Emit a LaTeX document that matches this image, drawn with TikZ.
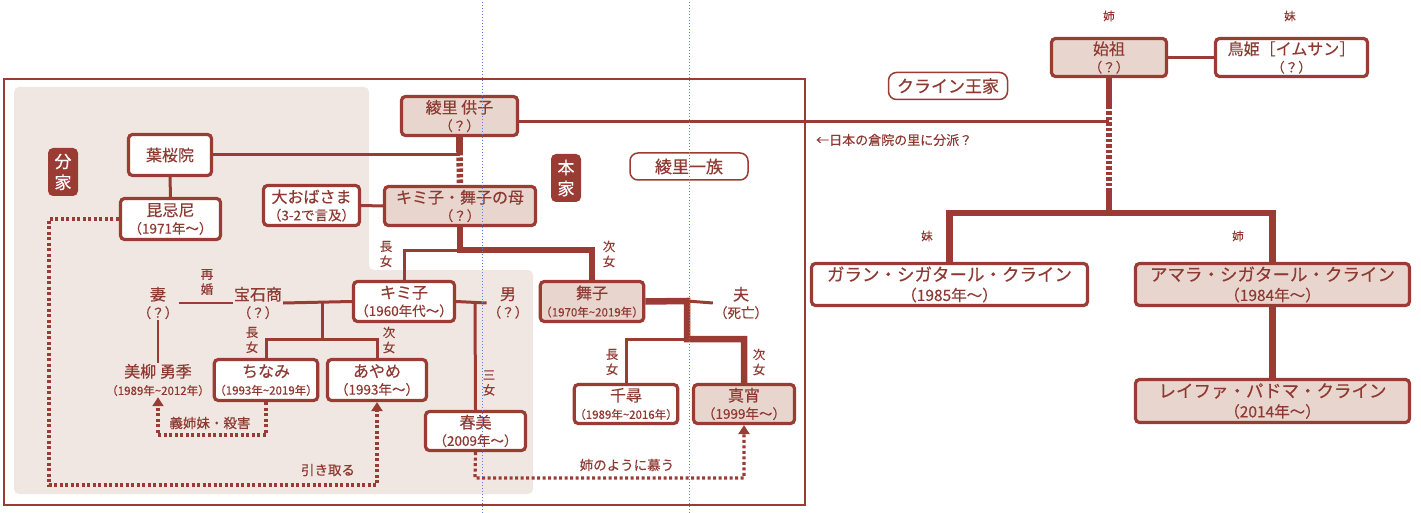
\documentclass[tikz,border=0pt]{standalone}
\usepackage{fontspec}
\setmainfont[FakeBold=0.35]{Noto Sans CJK JP}
\usetikzlibrary{arrows.meta}
\definecolor{dr}{HTML}{9A3B34}
\definecolor{hl}{HTML}{E8D6CE}
\definecolor{pn}{HTML}{F1E7E2}
\definecolor{tc}{HTML}{8E3A32}
\definecolor{gd}{HTML}{5B82D6}
\newcommand\fsN{\fontsize{16}{17.5}\selectfont}
\newcommand\fsD{\fontsize{13.5}{17.5}\selectfont}
\newcommand\fsDs{\fontsize{11.5}{17.5}\selectfont}
\newcommand\fsL{\fontsize{12.5}{15}\selectfont}
\newcommand\fsR{\fontsize{17.5}{20}\selectfont}
\newcommand\fsRd{\fontsize{15.5}{20}\selectfont}
\newcommand\fsT{\fontsize{17}{21}\selectfont}
\newcommand\fsC{\fontsize{13.5}{16}\selectfont}
\begin{document}
\begin{tikzpicture}[x=1pt,y=-1pt,
  box/.style={draw=dr, line width=3.2pt, rounded corners=4pt, fill=white, text=tc, align=center, inner sep=0pt, font=\fsN},
  hbox/.style={box, fill=hl},
  sz/.style 2 args={minimum width=#1pt, minimum height=#2pt},
  plain/.style={text=tc, align=center, inner sep=1pt, font=\fsN},
  lab/.style={text=tc, align=center, inner sep=0pt, font=\fsL},
  capt/.style={text=tc, inner sep=0pt, font=\fsC},
  tag/.style={fill=dr, rounded corners=5pt, text=white, align=center, inner sep=0pt, minimum width=30pt, minimum height=48pt, font=\fsT},
  clan/.style={draw=dr, line width=1.5pt, rounded corners=8pt, fill=white, text=tc, inner sep=0pt, minimum height=27pt, font=\fsT},
  thickln/.style={draw=dr, line width=6.5pt},
  midln/.style={draw=dr, line width=3pt},
  thinln/.style={draw=dr, line width=1.5pt},
  stripe/.style={draw=dr, line width=6.5pt, dash pattern=on 3.5pt off 2pt},
  dotln/.style={draw=dr, line width=3.2pt, dash pattern=on 3pt off 2.5pt},
  dotarr/.style={dotln, -{Triangle[length=9pt,width=11pt]}},
]
\useasboundingbox (0,0) rectangle (1421,513);
% panel and frame
\fill[pn, rounded corners=5pt] (14,87) -- (369,87) -- (369,270) -- (533,270) -- (533,494) -- (14,494) -- cycle;
\draw[dr, line width=1.5pt] (4,79) rectangle (805,505);

% ---- Ayasato nodes
\node[hbox, sz={116}{39}] (ayasato) at (459.5,116) {綾里 供子\\{\fsD （？）}};
\node[box, sz={83}{41}] (hazakura) at (170,155) {葉桜院};
\node[box, sz={100}{41}] (konki) at (170.5,219) {昆忌尼\\{\fsD （1971年～）}};
\node[box, sz={96}{40}] (oba) at (311.5,205.5) {大おばさま\\{\fsD （3-2で言及）}};
\node[hbox, sz={151}{39}] (haha) at (460,206) {キミ子・舞子の母\\{\fsD （？）}};
\node[box, sz={101}{40}] (kimiko) at (404,301.5) {キミ子\\{\fsD （1960年代～）}};
\node[box, sz={99}{41}] (chinami) at (266,380) {ちなみ\\{\fsDs （1993年\textasciitilde 2019年）}};
\node[box, sz={99}{41}] (ayame) at (377,380) {あやめ\\{\fsD （1993年～）}};
\node[box, sz={100}{39}] (harumi) at (475.5,431) {春美\\{\fsD （2009年～）}};
\node[hbox, sz={101}{40}] (maiko) at (592,301.5) {舞子\\{\fsDs （1970年\textasciitilde 2019年）}};
\node[box, sz={101}{39}] (chihiro) at (626,404) {千尋\\{\fsDs （1989年\textasciitilde 2016年）}};
\node[hbox, sz={101}{39}] (mayoi) at (744,404) {真宵\\{\fsD （1999年～）}};

\node[plain] (tsuma) at (158,303) {妻\\{\fsD （？）}};
\node[plain] (houseki) at (258,303) {宝石商\\{\fsD （？）}};
\node[plain] (otoko) at (508,303) {男\\{\fsD （？）}};
\node[plain] (otto) at (741,303) {夫\\{\fsD （死亡）}};
\node[plain] (miyanagi) at (158,380) {美柳 勇季\\{\fsDs （1989年\textasciitilde 2012年）}};

\node[tag] (bunke) at (63,172) {分\\家};
\node[tag] (honke) at (566,178) {本\\家};
\node[clan, minimum width=118pt] (ichizoku) at (689,166.5) {綾里一族};

% ---- Klein nodes
\node[hbox, sz={115}{38}] (shiso) at (1109,57.5) {始祖\\{\fsD （？）}};
\node[box, sz={152}{38}] (torihime) at (1291.5,57.5) {鳥姫［イムサン］\\{\fsD （？）}};
\node[clan, minimum width=119pt] (klein) at (948,86) {クライン王家};
\node[box, sz={276}{42}, font=\fsR] (garan) at (949.5,284.5) {ガラン・シガタール・クライン\\{\fsRd （1985年～）}};
\node[hbox, sz={274}{42}, font=\fsR] (amara) at (1272.5,284.5) {アマラ・シガタール・クライン\\{\fsRd （1984年～）}};
\node[hbox, sz={274}{43}, font=\fsR] (reifa) at (1272.5,401) {レイファ・パドマ・クライン\\{\fsRd （2014年～）}};

% ---- labels
\node[lab, font=\fontsize{11.5}{14}\selectfont] (lA) at (1109,16) {姉};
\node[lab, font=\fontsize{11.5}{14}\selectfont] (lB) at (1290,16) {妹};
\node[lab, font=\fontsize{11.5}{14}\selectfont] (lC) at (927,236) {妹};
\node[lab, font=\fontsize{11.5}{14}\selectfont] (lD) at (1238,236) {姉};
\node[lab] (l1) at (386,254) {長\\女};
\node[lab] (l2) at (609,254) {次\\女};
\node[lab] (l3) at (207,282) {再\\婚};
\node[lab] (l4) at (252,340) {長\\女};
\node[lab] (l5) at (389,340) {次\\女};
\node[lab] (l6) at (489,383) {三\\女};
\node[lab] (l7) at (612,362) {長\\女};
\node[lab] (l8) at (759,362) {次\\女};
\node[capt, anchor=west, font=\fontsize{13}{15}\selectfont] (bunpa) at (816,140) {←日本の倉院の里に分派？};
\node[capt] (c1) at (210,423) {義姉妹・殺害};
\node[capt] (c2) at (328,470) {引き取る};
\node[capt] (c3) at (627,465) {姉のように慕う};

% ---- coordinates
\coordinate (jS) at (459.5,152);
\coordinate (jM) at (460,250);
\coordinate (jK) at (322,302);
\coordinate (jK2) at (322,339);
\coordinate (jH) at (475,302);
\coordinate (jP) at (687,301);
\coordinate (jP2) at (687,339);
\coordinate (jR) at (1109,122);
\coordinate (jR1) at (1109,106);
\coordinate (jR2) at (1109,188);
\coordinate (jT) at (1109,213);
\coordinate (dA) at (49,485);
\coordinate (dB) at (158,435);
\coordinate (dC) at (475,478);

% ---- connectors (Ayasato)
\draw[thickln] (ayasato.south) -- (jS);
\draw[stripe] (jS) -- (haha.north);
\draw[midln] (hazakura.east) -- (jS |- hazakura.east);
\draw[midln] (hazakura.south) -- (konki.north);
\draw[midln] (oba.east) -- (haha.west);
\draw[midln] (jM) -| (kimiko.north);
\draw[thickln] (haha.south) -- (jM) -| (maiko.north);
\draw[thinln] (tsuma.east) -- (houseki.west);
\draw[thinln] (tsuma.south) -- (miyanagi.north);
\draw[midln] (houseki.east) -- (kimiko.west);
\draw[midln] (jK) -- (jK2);
\draw[midln] (chinami.north) |- (jK2) -| (ayame.north);
\draw[midln] (kimiko.east) -- (otoko.west);
\draw[midln] (jH) -- (harumi.north);
\draw[thickln] (maiko.east) -- (jP) -- (jP2) -| (mayoi.north);
\draw[midln] (jP) -- (otto.west);
\draw[midln] (jP2) -| (chihiro.north);
\draw[midln] (ayasato.east |- jR) -- (jR);

% ---- dotted arrows
\draw[dotarr] (konki.west) -| (dA) -| (ayame.south);
\draw[dotarr] (chinami.south) |- (dB) -- (miyanagi.south);
\draw[dotarr] (harumi.south) -- (dC) -| (mayoi.south);

% ---- connectors (Klein)
\draw[midln] (shiso.east) -- (torihime.west);
\draw[thickln] (shiso.south) -- (jR1);
\draw[stripe] (jR1) -- (jR2);
\draw[thickln] (jR2) -- (jT);
\draw[thickln] (garan.north) |- (jT) -| (amara.north);
\draw[thickln] (amara.south) -- (reifa.north);

% ---- guides
\draw[gd, line width=0.8pt, dash pattern=on 1pt off 2pt] (482,2) -- (482,513);
\draw[gd, line width=0.8pt, dash pattern=on 1pt off 2pt] (689,2) -- (689,513);
\end{tikzpicture}
\end{document}
